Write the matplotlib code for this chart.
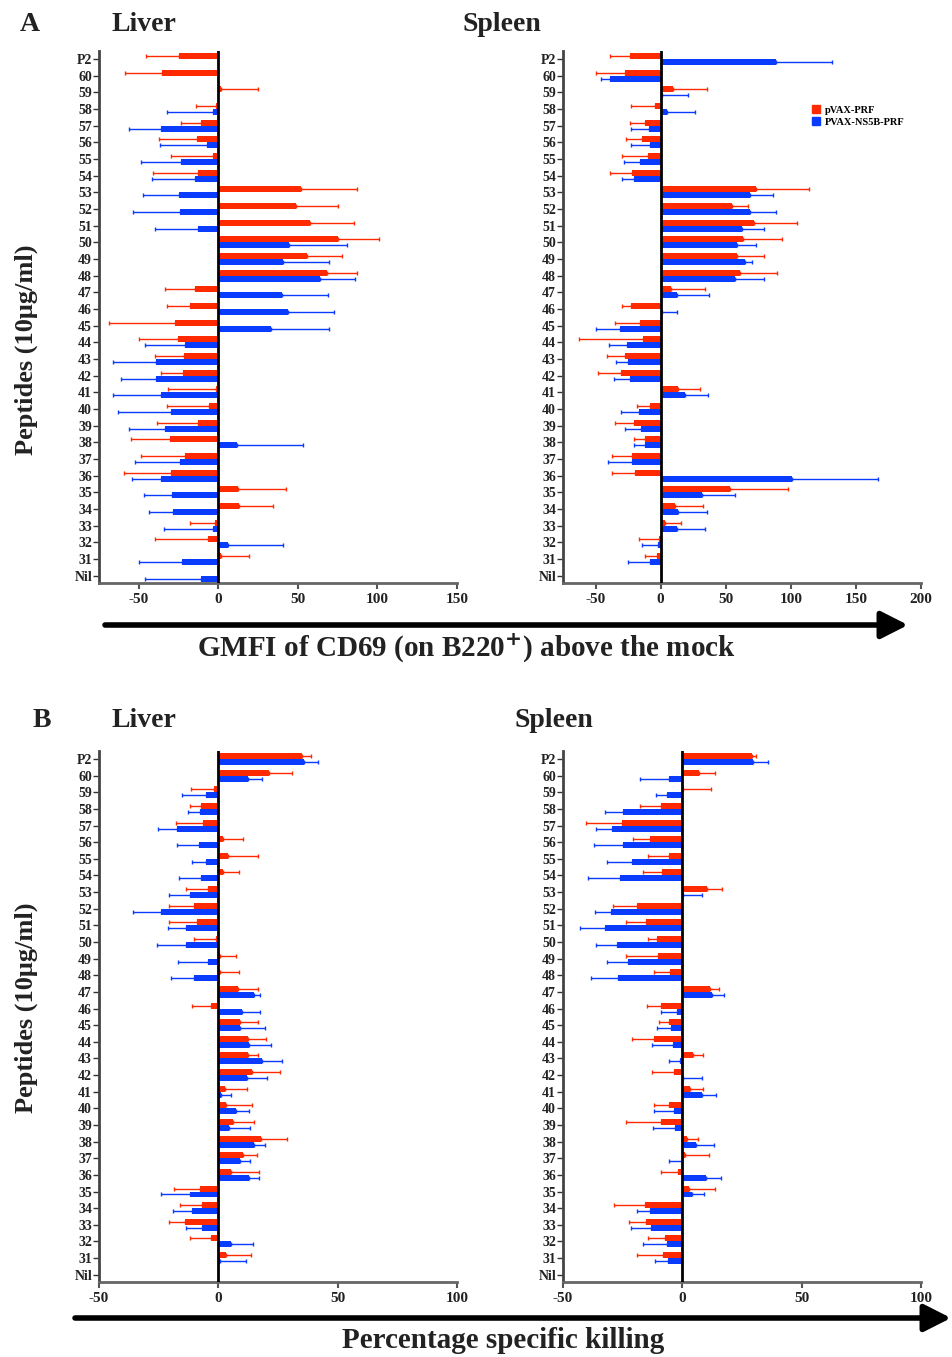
import numpy as np
import matplotlib
matplotlib.use("Agg")
import matplotlib.pyplot as plt
import matplotlib.patches as mpatches
from matplotlib.patches import FancyArrowPatch

plt.rcParams['font.family'] = ['Liberation Serif', 'DejaVu Serif']
plt.rcParams['font.weight'] = 'bold'

# peptides, top to bottom
peptides = ["P2"] + [str(n) for n in range(60, 30, -1)] + ["Nil"]
nan = np.nan

# ---- A: GMFI of CD69, liver
a_liver_red = [-24.7, -35.6, 1.7, -1.5, -11.1, -13.6, -3.3, -13.0, 51.9, 49.0, 57.7, 75.3, 55.9, 68.0, -14.9, -17.6,
               -27.0, -25.3, -21.8, -22.2, -1.3, -5.9, -12.6, -30.1, -21.1, -29.9, 12.6, 13.2, -2.1, -6.3, 1.7, nan]
a_liver_red_err = [20.7, 23.0, 23.2, 12.5, 12.1, 23.4, 26.4, 27.8, 35.1, 25.9, 27.4, 25.7, 21.9, 19.0, 18.8, 14.6,
                   41.8, 24.3, 17.9, 13.8, 30.3, 26.1, 26.1, 24.5, 27.4, 29.1, 30.1, 21.3, 15.5, 33.2, 17.5, nan]
a_liver_blue = [nan, nan, nan, -3.1, -36.2, -7.1, -23.2, -14.9, -24.5, -23.8, -12.8, 44.6, 40.6, 64.0, 39.7, 43.5,
                33.3, -20.7, -39.1, -38.9, -35.8, -29.5, -33.7, 11.5, -24.1, -35.8, -29.3, -28.7, -3.1, 5.9, -22.8, -11.1]
a_liver_blue_err = [nan, nan, nan, 28.9, 20.1, 29.7, 25.5, 26.9, 22.8, 30.0, 27.2, 36.4, 28.9, 21.8, 29.1, 29.1,
                    36.2, 25.5, 27.0, 22.2, 30.3, 33.3, 22.6, 41.4, 28.4, 18.2, 17.4, 15.0, 31.2, 34.5, 27.0, 34.9]

# ---- A: GMFI of CD69, spleen
a_spleen_red = [-23.4, -27.5, 9.5, -4.1, -12.3, -14.4, -10.0, -21.8, 73.4, 55.2, 71.9, 63.4, 59.0, 61.1, 7.7, -22.8,
                -15.9, -13.6, -27.2, -30.5, 13.6, -8.5, -20.5, -12.1, -22.1, -19.8, 53.6, 11.3, 3.3, -1.3, -2.8, nan]
a_spleen_red_err = [15.6, 22.0, 26.4, 18.5, 11.3, 12.3, 19.3, 17.2, 40.6, 11.8, 32.8, 30.0, 20.6, 28.2, 26.4, 6.7,
                    18.8, 48.8, 14.1, 17.8, 16.4, 10.0, 14.2, 8.7, 14.9, 17.4, 44.2, 21.0, 12.4, 15.6, 9.3, nan]
a_spleen_blue = [88.3, -39.0, 1.3, 5.1, -9.0, -8.2, -16.2, -20.3, 69.0, 68.8, 62.6, 58.5, 64.9, 57.2, 12.8, 0.8,
                 -31.3, -25.7, -24.9, -23.9, 18.7, -16.4, -15.4, -12.1, -21.8, 100.6, 31.8, 13.1, 12.6, -2.1, -8.5, nan]
a_spleen_blue_err = [43.4, 6.9, 19.7, 21.1, 13.6, 14.6, 12.0, 9.2, 17.5, 19.5, 16.5, 14.9, 5.4, 22.4, 24.7, 11.8,
                     18.0, 14.1, 9.5, 12.0, 17.5, 13.9, 11.6, 8.7, 19.0, 66.2, 25.4, 22.8, 21.8, 12.0, 16.4, nan]

# ---- B: percentage specific killing, liver
b_liver_red = [34.9, 21.3, -1.8, -7.1, -6.3, 2.0, 4.2, 2.0, -4.2, -10.2, -9.1, -0.8, 0.6, 0.5, 8.4, -3.1,
               9.1, 12.4, 12.3, 14.1, 2.9, 3.2, 6.0, 17.7, 10.3, 5.2, -7.8, -6.8, -13.8, -3.2, 3.3, nan]
b_liver_red_err = [4.1, 9.4, 9.5, 4.9, 11.4, 8.3, 12.4, 6.6, 9.2, 10.4, 11.4, 9.2, 6.9, 8.3, 8.1, 8.1,
                   7.4, 7.5, 4.3, 11.8, 9.1, 10.7, 8.8, 10.9, 6.0, 11.8, 10.7, 9.1, 6.7, 8.8, 10.2, nan]
b_liver_blue = [36.0, 12.6, -5.2, -7.7, -17.2, -7.9, -5.3, -7.1, -11.7, -24.0, -13.7, -13.7, -4.3, -10.3, 14.9, 9.8,
                9.1, 12.8, 18.5, 12.0, 1.1, 7.5, 4.6, 14.8, 8.9, 13.0, -11.7, -10.9, -6.7, 5.2, 0.7, nan]
b_liver_blue_err = [5.8, 5.7, 9.9, 5.0, 8.0, 9.5, 5.9, 9.2, 8.9, 11.6, 7.5, 12.2, 12.4, 9.5, 2.4, 7.6,
                    10.6, 9.2, 8.0, 8.5, 4.2, 5.3, 8.8, 4.9, 4.2, 4.2, 12.4, 8.1, 7.0, 9.4, 11.0, nan]

# ---- B: percentage specific killing, spleen
b_spleen_red = [29.0, 7.1, 0.3, -8.8, -25.2, -13.5, -5.7, -8.5, 10.5, -19.2, -15.1, -10.6, -10.2, -5.0, 11.6, -8.8,
                -5.4, -11.7, 4.3, -3.6, 3.1, -5.6, -8.9, 1.8, 1.0, -1.7, 2.9, -15.6, -15.3, -7.1, -8.1, nan]
b_spleen_red_err = [1.7, 6.6, 11.7, 8.9, 15.0, 7.1, 8.5, 7.8, 6.1, 9.7, 8.7, 3.6, 13.6, 7.0, 3.9, 6.1,
                    4.2, 9.2, 4.2, 9.1, 5.4, 6.1, 14.8, 4.9, 10.2, 7.2, 10.8, 12.9, 6.9, 7.1, 11.1, nan]
b_spleen_blue = [29.7, -5.7, -6.6, -24.8, -29.4, -24.8, -21.2, -26.2, 0.4, -30.0, -32.2, -27.3, -22.7, -27.1, 12.4, -2.4,
                 -4.9, -3.9, -0.8, 0.3, 8.1, -3.3, -3.2, 5.9, -0.1, 9.8, 4.2, -13.7, -13.1, -6.6, -6.0, nan]
b_spleen_blue_err = [6.4, 11.9, 4.4, 7.6, 6.6, 12.2, 10.5, 13.4, 8.0, 6.4, 10.5, 8.7, 8.7, 11.0, 5.0, 6.7,
                     5.8, 8.8, 4.8, 7.8, 5.9, 8.6, 8.9, 7.4, 5.3, 6.2, 5.0, 5.1, 8.2, 10.0, 5.3, nan]

RED = "#ff2a00"
BLUE = "#0a3cff"
BAR_H = 0.36


def one_sided(vals, errs):
    vals = np.array(vals, dtype=float)
    errs = np.array(errs, dtype=float)
    lower = np.where(vals < 0, errs, 0.0)
    upper = np.where(vals >= 0, errs, 0.0)
    return vals, np.vstack([lower, upper])


def draw_panel(ax, red, red_err, blue, blue_err, xlim, xticks):
    y = np.arange(len(peptides))[::-1].astype(float)
    for vals, errs, col, off in [(red, red_err, RED, BAR_H / 2), (blue, blue_err, BLUE, -BAR_H / 2)]:
        v, xe = one_sided(vals, errs)
        ok = ~np.isnan(v)
        ax.barh(y[ok] + off, v[ok], height=BAR_H, color=col, edgecolor="none", zorder=2)
        ax.errorbar(v[ok], y[ok] + off, xerr=xe[:, ok], fmt="none", ecolor=col,
                    elinewidth=1.0, capsize=1.4, capthick=1.0, zorder=3)
    ax.axvline(0, color="black", lw=2.0, zorder=4)
    ax.set_xlim(*xlim)
    ax.set_ylim(-0.44, len(peptides) - 1 + 0.48)
    ax.set_yticks(y)
    ax.set_yticklabels(peptides, fontsize=10, color="#222222")
    ax.set_xticks(xticks)
    ax.set_xticklabels([str(t) for t in xticks], fontsize=11, color="#222222")
    ax.tick_params(axis="y", length=4, width=1, pad=1, color="#333333")
    ax.tick_params(axis="x", length=4, width=1.5, pad=3, color="#555555")
    for s in ["top", "right"]:
        ax.spines[s].set_visible(False)
    ax.spines["left"].set_linewidth(2)
    ax.spines["left"].set_color("#444444")
    ax.spines["bottom"].set_linewidth(2)
    ax.spines["bottom"].set_color("#666666")


W, H = 952, 1357
fig = plt.figure(figsize=(W / 100, H / 100), dpi=100)


def axes_px(left, right, top, bottom):
    return fig.add_axes([left / W, 1 - bottom / H, (right - left) / W, (bottom - top) / H])


ax_al = axes_px(99, 457, 51, 583)
ax_as = axes_px(563, 921, 51, 583)
ax_bl = axes_px(99, 457, 751, 1282)
ax_bs = axes_px(563, 921, 751, 1282)

draw_panel(ax_al, a_liver_red, a_liver_red_err, a_liver_blue, a_liver_blue_err, (-75, 150), [-50, 0, 50, 100, 150])
draw_panel(ax_as, a_spleen_red, a_spleen_red_err, a_spleen_blue, a_spleen_blue_err, (-75, 200), [-50, 0, 50, 100, 150, 200])
draw_panel(ax_bl, b_liver_red, b_liver_red_err, b_liver_blue, b_liver_blue_err, (-50, 100), [-50, 0, 50, 100])
draw_panel(ax_bs, b_spleen_red, b_spleen_red_err, b_spleen_blue, b_spleen_blue_err, (-50, 100), [-50, 0, 50, 100])

# legend
red_patch = mpatches.Patch(color=RED, label="pVAX-PRF")
blue_patch = mpatches.Patch(color=BLUE, label="PVAX-NS5B-PRF")
fig.legend(handles=[red_patch, blue_patch], loc="upper left", bbox_to_anchor=(803 / W, 1 - 96 / H),
           frameon=False, fontsize=7.5, handlelength=0.7, handleheight=0.8, handletextpad=0.5, labelspacing=0.2)

# panel titles
def ftext(x, y, s, **kw):
    fig.text(x / W, 1 - y / H, s, color="#222222", **kw)

ftext(20, 31, "A", fontsize=20, va="baseline")
ftext(112, 31, "Liver", fontsize=20, va="baseline")
ftext(462, 31, "Spleen", fontsize=20, va="baseline")
ftext(33, 727, "B", fontsize=20, va="baseline")
ftext(112, 727, "Liver", fontsize=20, va="baseline")
ftext(514, 727, "Spleen", fontsize=20, va="baseline")

ftext(26, 350, "Peptides (10\u03bcg/ml)", fontsize=19, rotation=90, ha="center", va="center")
ftext(26, 1008, "Peptides (10\u03bcg/ml)", fontsize=19, rotation=90, ha="center", va="center")

ftext(466, 657, "GMFI of CD69 (on B220$^{\\mathbf{+}}$) above the mock", fontsize=21, ha="center", va="baseline")
ftext(503, 1348, "Percentage specific killing", fontsize=21, ha="center", va="baseline")

# long arrows under the panels
for x0, x1, yy in [(105, 908, 625), (75, 951, 1318)]:
    arr = FancyArrowPatch((x0 / W, 1 - yy / H), (x1 / W, 1 - yy / H), transform=fig.transFigure,
                          arrowstyle="-|>,head_length=0.65,head_width=0.33", mutation_scale=25,
                          lw=4, color="black", shrinkA=0, shrinkB=0)
    fig.add_artist(arr)

fig.savefig("out.png", dpi=100)
